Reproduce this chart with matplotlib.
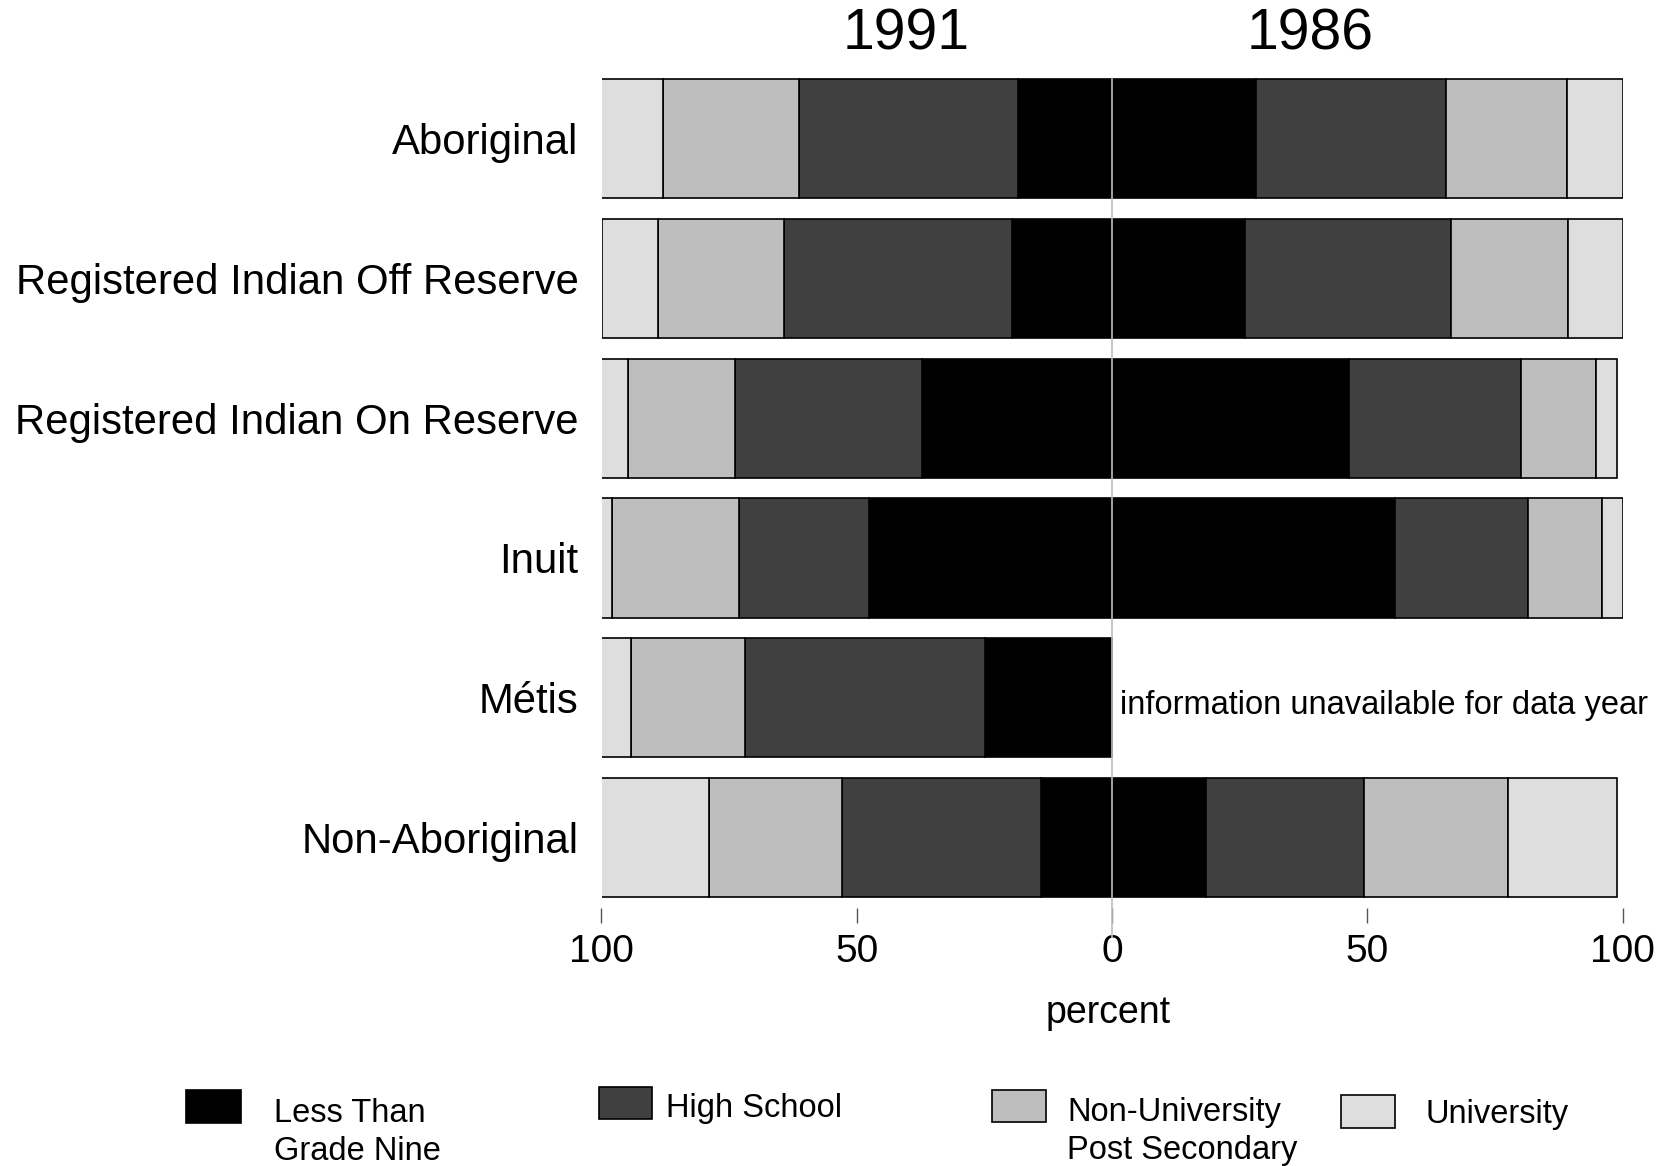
import matplotlib
matplotlib.use("Agg")
import matplotlib.pyplot as plt
from matplotlib.patches import Rectangle

plt.rcParams['font.family'] = ['Liberation Sans', 'DejaVu Sans']

# ---- data ----
groups = ["Aboriginal", "Registered Indian Off Reserve", "Registered Indian On Reserve",
          "Inuit", "Métis", "Non-Aboriginal"]
levels = ["Less Than\nGrade Nine", "High School", "Non-University\nPost Secondary", "University"]
colors = ["#000000", "#404040", "#bebebe", "#dedede"]

# 1991 (drawn to the left)
lt_1991 = [18.5, 19.5, 37.2, 47.6, 24.9, 13.9]
hs_1991 = [42.8, 44.7, 36.7, 25.5, 46.9, 38.9]
nu_1991 = [26.6, 24.8, 20.9, 24.8, 22.4, 26.2]
un_1991 = [12.1, 10.9, 5.2, 2.2, 5.8, 21.0]

# 1986 (drawn to the right); Métis unavailable
lt_1986 = [28.2, 26.1, 46.4, 55.5, None, 18.5]
hs_1986 = [37.3, 40.4, 33.7, 26.0, None, 30.8]
nu_1986 = [23.7, 22.8, 14.7, 14.4, None, 28.2]
un_1986 = [10.8, 10.7, 4.2, 4.1, None, 21.5]

xticks = [-100, -50, 0, 50, 100]
xticklabels = ["100", "50", "0", "50", "100"]
years = ["1991", "1986"]

# ---- figure ----
W, H = 1669, 1166
fig = plt.figure(figsize=(W / 100, H / 100), dpi=100)

def fx(px):
    return px / W

def fy(py):
    return 1 - py / H

ax_left, ax_right = 601.5, 1622.5
ax_top, ax_bot = 60, 908
ax = fig.add_axes([fx(ax_left), fy(ax_bot), fx(ax_right - ax_left), (ax_bot - ax_top) / H])

y0, dy = 138.4, 139.86
ytop = (ax_top - y0) / dy
ybot = (ax_bot - y0) / dy
ax.set_xlim(-100, 100)
ax.set_ylim(ybot, ytop)

ypos = list(range(len(groups)))
bar_h = 0.852
lw = 1.2

series91 = [lt_1991, hs_1991, nu_1991, un_1991]
series86 = [lt_1986, hs_1986, nu_1986, un_1986]

for i, y in enumerate(ypos):
    left = 0.0
    for s, c in zip(series91, colors):
        v = s[i]
        ax.barh(y, -v, left=-left, height=bar_h, color=c, edgecolor="black", linewidth=lw)
        left += v
    if series86[0][i] is not None:
        left = 0.0
        for s, c in zip(series86, colors):
            v = s[i]
            ax.barh(y, v, left=left, height=bar_h, color=c, edgecolor="black", linewidth=lw)
            left += v
    else:
        ax.text(1.5, y + 0.054, "information unavailable for data year", ha="left", va="center",
                fontsize=23.5, color="black")

# center line
ax.plot([0, 0], [-bar_h / 2, (937 - y0) / dy], color="#bebebe", linewidth=1.2,
        clip_on=False, zorder=5)

for sp in ax.spines.values():
    sp.set_visible(False)

ax.set_yticks(ypos)
ax.set_yticklabels(groups, fontsize=30.2)
ax.tick_params(axis="y", length=0, pad=16.5)

ax.set_xticks(xticks)
ax.set_xticklabels(xticklabels, fontsize=28)
ax.tick_params(axis="x", length=10.8, width=1.0, color="#555555", pad=8, direction="out")

# year labels
ax.text(-40.4, (35 - y0) / dy, years[0], ha="center", va="center", fontsize=41)
ax.text(38.8, (35 - y0) / dy, years[1], ha="center", va="center", fontsize=41)

# x label
fig.text(fx(1108), fy(1013), "percent", ha="center", va="center", fontsize=27)

# legend (manual)
patches = [(186, 1090, 55, 33), (599, 1087, 53, 32), (992, 1090, 54, 32), (1341, 1095, 54, 33)]
for (px, py, pw, ph), c in zip(patches, colors):
    fig.patches.append(Rectangle((fx(px), fy(py + ph)), pw / W, ph / H, transform=fig.transFigure,
                                 facecolor=c, edgecolor="black", linewidth=1.2))

leg_text = [(274, [1113, 1151]), (666, [1109]), (1067, [1112, 1150]), (1425, [1115])]
for lab, (tx, tys) in zip(levels, leg_text):
    for line, ty in zip(lab.split("\n"), tys):
        fig.text(fx(tx), fy(ty), line, ha="left", va="center", fontsize=23.5)

fig.savefig("out.png", dpi=100)
